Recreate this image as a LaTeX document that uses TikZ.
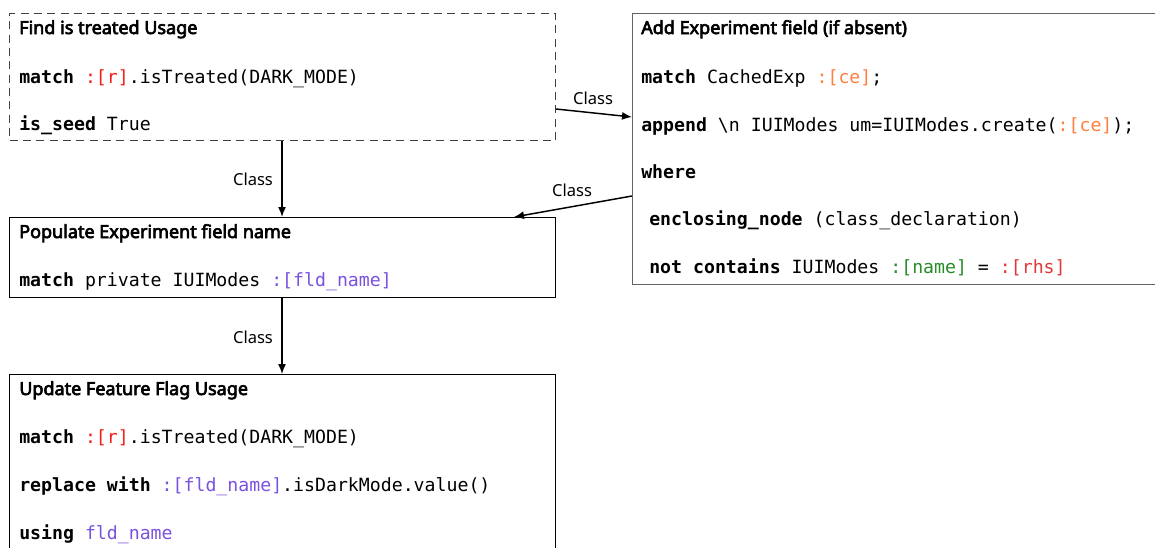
\documentclass[tikz,border=0pt]{standalone}
\usepackage{fontspec}
\setmainfont{Noto Sans}[AutoFakeBold=3.6]
\setmonofont{DejaVu Sans Mono}
\usetikzlibrary{arrows.meta,calc}
\definecolor{cr}{RGB}{240,30,30}
\definecolor{co}{RGB}{255,128,64}
\definecolor{cp}{RGB}{122,82,224}
\definecolor{cg}{RGB}{40,140,40}
\definecolor{crh}{RGB}{225,55,55}
\definecolor{bgray}{RGB}{100,100,100}
\newcommand{\kwd}[1]{{\bfseries #1}}
\newcommand{\cl}[2]{\textcolor{#1}{#2}}
\tikzset{
  box/.style={draw=black, line width=0.75pt, rectangle, anchor=north west, inner sep=0pt, minimum width=409.5pt},
  ttl/.style={anchor=base west, inner sep=0pt, font=\fontsize{13.5}{16}\selectfont\bfseries},
  code/.style={anchor=base west, inner sep=0pt, font=\fontsize{13.65}{16}\selectfont\ttfamily},
  lbl/.style={inner sep=0pt, font=\fontsize{12.4}{14}\selectfont},
  conn/.style={line width=1.1pt, -{Latex[length=7.5pt,width=6pt]}}
}
\begin{document}
\begin{tikzpicture}[x=0.75pt,y=-0.75pt]
\useasboundingbox (0,0) rectangle (1155,547);
% boxes
\node[box, draw=black!75, dash pattern=on 6pt off 4pt, minimum height=95.25pt] (b1) at (9,13) {};
\node[box, draw=bgray, minimum width=405pt, minimum height=203.25pt] (b2) at (632,13) {};
\node[box, minimum height=60pt] (b3) at (9,217) {};
\node[box, minimum height=139.5pt] (b4) at (9,374) {};
% box 1
\node[ttl] (t1a) at (19,34) {Find is treated Usage};
\node[code] (t1b) at (19,83) {\kwd{match} \cl{cr}{:[r]}.isTreated(DARK\_MODE)};
\node[code] (t1c) at (19,130) {\kwd{is\_seed} True};
% box 2
\node[ttl] (t2a) at (641,34) {Add Experiment field (if absent)};
\node[code] (t2b) at (641,83) {\kwd{match} CachedExp \cl{co}{:[ce]};};
\node[code] (t2c) at (641,131) {\kwd{append} \textbackslash n IUIModes um=IUIModes.create(\cl{co}{:[ce]});};
\node[code] (t2d) at (641,178) {\kwd{where}};
\node[code] (t2e) at (649,225) {\kwd{enclosing\_node} (class\_declaration)};
\node[code] (t2f) at (649,273) {\kwd{not contains} IUIModes \cl{cg}{:[name]} = \cl{crh}{:[rhs]}};
% box 3
\node[ttl] (t3a) at (19,238) {Populate Experiment field name};
\node[code] (t3b) at (19,286) {\kwd{match} private IUIModes \cl{cp}{:[fld\_name]}};
% box 4
\node[ttl] (t4a) at (19,395) {Update Feature Flag Usage};
\node[code] (t4b) at (19,443) {\kwd{match} \cl{cr}{:[r]}.isTreated(DARK\_MODE)};
\node[code] (t4c) at (19,491) {\kwd{replace with} \cl{cp}{:[fld\_name]}.isDarkMode.value()};
\node[code] (t4d) at (19,539) {\kwd{using} \cl{cp}{fld\_name}};
% connectors
\draw[conn] ($(b1.south east)+(0,-32)$) -- ($(b2.north west)+(0,104)$);
\node[lbl] (l1) at (593,98) {Class};
\draw[conn] ($(b2.north west)+(0,183)$) -- ($(b3.north east)+(-42,0)$);
\node[lbl] (l2) at (572,190) {Class};
\draw[conn] (b1.south -| 282,0) -- (b3.north -| 282,0);
\node[lbl] (l3) at (253,179) {Class};
\draw[conn] (b3.south -| 282,0) -- (b4.north -| 282,0);
\node[lbl] (l4) at (253,337) {Class};
\end{tikzpicture}
\end{document}
